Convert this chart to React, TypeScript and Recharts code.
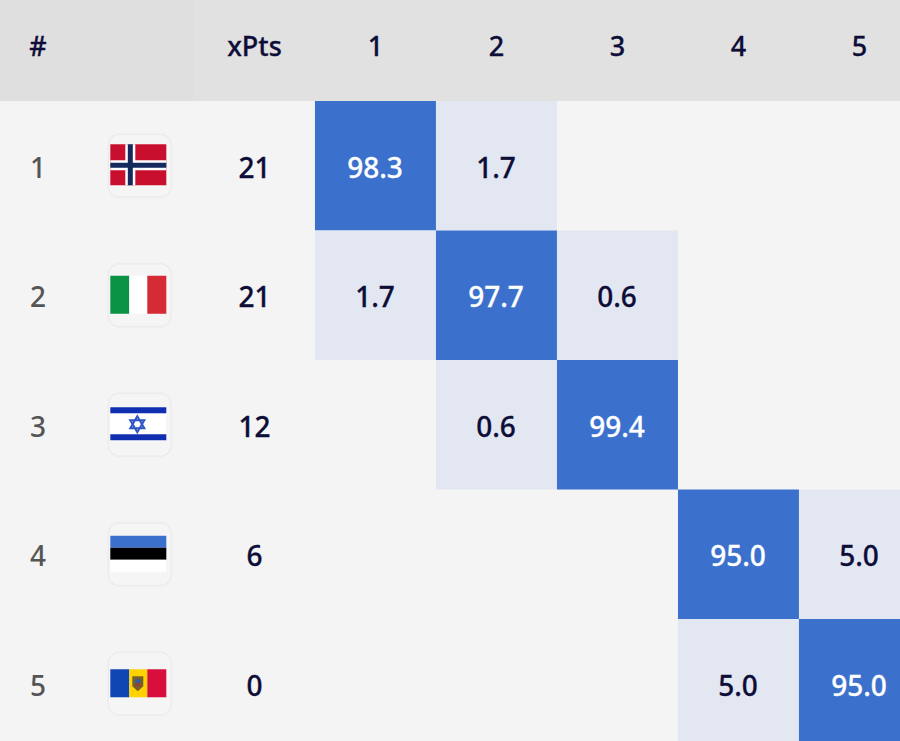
import { ScatterChart, Scatter, XAxis, YAxis, ReferenceArea } from 'recharts';

const WIDTH = 900;
const HEIGHT = 741;

const countries = ['Norway', 'Italy', 'Israel', 'Estonia', 'Moldova'];
const ranks = [1, 2, 3, 4, 5];
const xPts = [21, 21, 12, 6, 0];
const places = [1, 2, 3, 4, 5];
// chance (%) of each country finishing in each place, null = empty cell
const norway = [98.3, 1.7, null, null, null];
const italy = [1.7, 97.7, 0.6, null, null];
const israel = [null, 0.6, 99.4, null, null];
const estonia = [null, null, null, 95.0, 5.0];
const moldova = [null, null, null, 5.0, 95.0];
const probabilities = [norway, italy, israel, estonia, moldova];

// axes run in column / row units, place n sits at x = n and rank n at y = n
const X_DOMAIN = [-2.103, 5.335];
const Y_DOMAIN = [-0.28, 5.442];
const HASH_COL = -1.79;
const FLAG_COL = -0.96;
const XPTS_COL = 0;
const CELL_W = WIDTH / (X_DOMAIN[1] - X_DOMAIN[0]);
const CELL_H = HEIGHT / (Y_DOMAIN[1] - Y_DOMAIN[0]);

const NAVY = '#0d0d38';
const FONT = '"Noto Sans", sans-serif';

const cells = probabilities.flatMap((row, r) =>
  row.flatMap((value, c) => (value === null ? [] : [{ x: places[c], y: ranks[r], value }]))
);
const flagRows = countries.map((country, r) => ({ x: FLAG_COL, y: ranks[r], country }));
const xPtsRows = xPts.map((value, r) => ({ x: XPTS_COL, y: ranks[r], value }));

const headerLabel = (tick: number) => {
  if (tick === HASH_COL) return '#';
  if (tick === XPTS_COL) return 'xPts';
  return String(tick);
};

function HeaderTick({ x, payload }: any) {
  return (
    <text x={x} y={45} textAnchor="middle" dominantBaseline="central" fontFamily={FONT} fontSize={27} fontWeight={500} fill={NAVY} stroke={NAVY} strokeWidth={0.3}>
      {headerLabel(payload.value)}
    </text>
  );
}

function RankTick({ y, payload }: any) {
  return (
    <text x={38} y={y + 1} textAnchor="middle" dominantBaseline="central" fontFamily={FONT} fontSize={28} fontWeight={500} fill="#555555">
      {payload.value}
    </text>
  );
}

function HeatCell({ cx, cy, payload }: any) {
  const strong = payload.value > 50;
  const ink = strong ? '#ffffff' : NAVY;
  return (
    <g>
      <rect x={cx - CELL_W / 2} y={cy - CELL_H / 2} width={CELL_W} height={CELL_H} fill={strong ? '#3b71cc' : '#e2e7f2'} />
      <text x={cx - 0.5} y={cy + 1} textAnchor="middle" dominantBaseline="central" fontFamily={FONT} fontSize={28} fontWeight={500} fill={ink} stroke={ink} strokeWidth={0.3}>
        {payload.value.toFixed(1)}
      </text>
    </g>
  );
}

function XPtsLabel({ cx, cy, payload }: any) {
  return (
    <text x={cx} y={cy + 1} textAnchor="middle" dominantBaseline="central" fontFamily={FONT} fontSize={28} fontWeight={500} fill={NAVY} stroke={NAVY} strokeWidth={0.3}>
      {payload.value}
    </text>
  );
}

function FlagArt({ country }: { country: string }) {
  switch (country) {
    case 'Norway':
      return (
        <g>
          <rect x={-28} y={-21} width={56} height={41} fill="#c8102e" />
          <rect x={-13} y={-21} width={10} height={41} fill="#ffffff" />
          <rect x={-28} y={-5} width={56} height={10} fill="#ffffff" />
          <rect x={-10.5} y={-21} width={5} height={41} fill="#14295e" />
          <rect x={-28} y={-2.5} width={56} height={5} fill="#14295e" />
        </g>
      );
    case 'Italy':
      return (
        <g>
          <rect x={-28} y={-19} width={19} height={38} fill="#0a9345" />
          <rect x={-9} y={-19} width={18} height={38} fill="#ffffff" />
          <rect x={9} y={-19} width={19} height={38} fill="#d52b35" />
        </g>
      );
    case 'Israel':
      return (
        <g>
          <rect x={-28} y={-17} width={56} height={34} fill="#ffffff" />
          <rect x={-28} y={-17} width={56} height={6} fill="#0f2fb0" />
          <rect x={-28} y={10} width={56} height={6} fill="#0f2fb0" />
          <path d="M-1 -8 L6 4 L-8 4 Z M-1 8 L6 -4 L-8 -4 Z" fill="none" stroke="#2d55c4" strokeWidth={2} />
        </g>
      );
    case 'Estonia':
      return (
        <g>
          <rect x={-28} y={-18} width={56} height={12} fill="#3b71cc" />
          <rect x={-28} y={-6} width={56} height={12} fill="#000000" />
          <rect x={-28} y={6} width={56} height={12} fill="#ffffff" />
        </g>
      );
    default:
      return (
        <g>
          <rect x={-28} y={-14} width={19} height={28} fill="#0f46b4" />
          <rect x={-9} y={-14} width={18} height={28} fill="#ffd200" />
          <rect x={9} y={-14} width={19} height={28} fill="#d80f3c" />
          <path d="M-6 -7 H5 V3 L-0.5 8 L-6 3 Z" fill="#77602a" />
          <rect x={-3} y={-4} width={5} height={4} fill="#2f5f9c" />
          <rect x={-3} y={0} width={5} height={3} fill="#9a3b36" />
        </g>
      );
  }
}

function FlagChip({ cx, cy, payload }: any) {
  return (
    <g transform={`translate(${cx}, ${cy - 0.5})`}>
      <rect x={-30} y={-31} width={63} height={63} rx={11} fill="#f5f5f5" stroke="#ececec" strokeWidth={1.5} />
      <FlagArt country={payload.country} />
    </g>
  );
}

export default function App() {
  return (
    <div style={{ position: 'absolute', left: 0, top: 0, width: WIDTH, height: HEIGHT, background: '#f4f4f4', overflow: 'hidden' }}>
      <ScatterChart width={WIDTH} height={HEIGHT} margin={{ top: 0, right: 0, bottom: 0, left: 0 }}>
        <ReferenceArea x1={X_DOMAIN[0]} x2={-0.5} y1={Y_DOMAIN[0]} y2={0.5} fill="#dfdfdf" fillOpacity={1} stroke="none" />
        <ReferenceArea x1={-0.5} x2={X_DOMAIN[1]} y1={Y_DOMAIN[0]} y2={0.5} fill="#e1e1e1" fillOpacity={1} stroke="none" />
        <XAxis
          type="number"
          dataKey="x"
          orientation="top"
          mirror
          height={1}
          domain={X_DOMAIN}
          ticks={[HASH_COL, XPTS_COL, ...places]}
          interval={0}
          axisLine={false}
          tickLine={false}
          tick={<HeaderTick />}
        />
        <YAxis
          type="number"
          dataKey="y"
          reversed
          mirror
          width={1}
          domain={Y_DOMAIN}
          ticks={ranks}
          interval={0}
          axisLine={false}
          tickLine={false}
          tick={<RankTick />}
        />
        <Scatter data={cells} isAnimationActive={false} shape={(p: any) => <HeatCell {...p} />} />
        <Scatter data={flagRows} isAnimationActive={false} shape={(p: any) => <FlagChip {...p} />} />
        <Scatter data={xPtsRows} isAnimationActive={false} shape={(p: any) => <XPtsLabel {...p} />} />
      </ScatterChart>
    </div>
  );
}
